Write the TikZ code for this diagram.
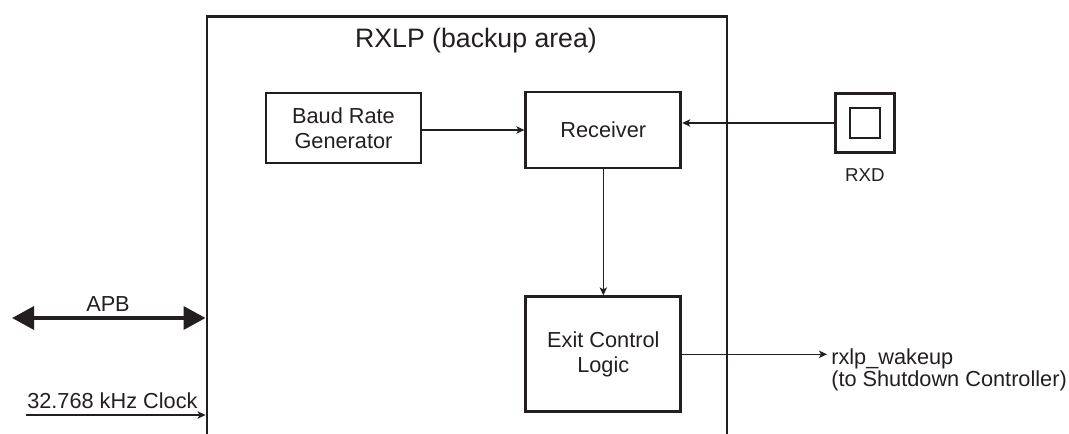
\documentclass[tikz,border=0pt]{standalone}
\usepackage{fontspec}
\setmainfont{Liberation Sans}
\usetikzlibrary{arrows.meta,positioning}
\definecolor{ink}{HTML}{231F20}

\begin{document}
\begin{tikzpicture}[x=0.75pt,y=-0.75pt,
  area/.style={draw=ink,line width=2.1pt,minimum width=390pt,minimum height=375pt,inner sep=0pt},
  block/.style={draw=ink,line width=2.1pt,minimum width=116.25pt,align=center,text=ink,
    font=\fontsize{16.3}{18.5}\selectfont},
  padbox/.style={draw=ink,line width=2.1pt,minimum size=#1,inner sep=0pt},
  lbl/.style={text=ink,font=\fontsize{16.3}{17}\selectfont,inner sep=0pt},
  sig/.style={draw=ink,line width=0.95pt,-{Stealth[length=6pt,width=5.5pt,inset=1.5pt]}},
  bus/.style={draw=ink,line width=3.25pt,
    {Triangle[length=16.5pt,width=17pt]}-{Triangle[length=16.5pt,width=17pt]}}
]
\useasboundingbox (0,0) rectangle (1069,434);
\clip (0,0) rectangle (1069,434);
% backup area, open at the bottom
\node[area,anchor=north] (rxlp) at (467,15) {};
\node[lbl,font=\fontsize{20}{24}\selectfont,anchor=base] (title) at (476,48) {RXLP (backup area)};
\node[block,minimum height=52.5pt] (baud) at (343.5,128) {Baud Rate\\Generator};
\node[block,minimum height=57pt,right=76.5pt of baud,yshift=-1.5pt] (rcv) {Receiver};
\node[block,minimum height=86.25pt,below=94.5pt of rcv] (exit) {Exit Control\\Logic};
% RXD pad
\node[padbox=44pt,right=114pt of rcv,yshift=5.25pt] (rxd) {};
\node[padbox=22.5pt] (rxdcore) at (rxd) {};
\node[lbl,font=\fontsize{14}{16}\selectfont,below=11.25pt of rxd] (rxdname) {RXD};
\node[lbl,align=left,anchor=north west] (wake) at (831,348) {rxlp\_wakeup\\(to Shutdown Controller)};
% left side inputs
\coordinate (apbend) at (12,318);
\coordinate (clkend) at (26,415);
\node[lbl] (apb) at (108,304) {APB};
\node[lbl,anchor=base west] (clk) at (27,408) {32.768 kHz Clock};
\draw[bus] (apbend) -- (apbend -| rxlp.west);
\draw[sig] (clkend) -- (clkend -| rxlp.west);
% internal signals
\draw[sig] (rcv.west -| baud.east) -- (rcv.west);
\draw[sig] (rxd.west) -- (rxd.west -| rcv.east);
\draw[sig] (rcv.south) -- (exit.north);
\draw[sig] (exit.east) -- ([xshift=-3pt]exit.east -| wake.west);
\end{tikzpicture}
\end{document}
